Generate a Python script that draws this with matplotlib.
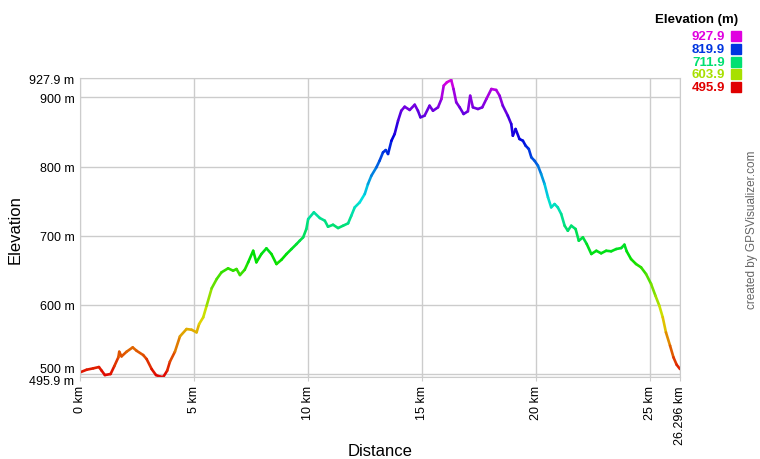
import numpy as np
import matplotlib
matplotlib.use("Agg")
import matplotlib.pyplot as plt
import matplotlib.transforms as mtransforms
from matplotlib.collections import LineCollection
from matplotlib.colors import ListedColormap, hsv_to_rgb, Normalize
from matplotlib.patches import Rectangle

# elevation profile
distance_km = [
    0.00, 0.29, 0.58, 0.83, 0.95, 1.09, 1.34, 1.50, 1.68, 1.72, 1.82, 2.04,
    2.31, 2.48, 2.77, 2.92, 3.14, 3.33, 3.50, 3.65, 3.82, 3.94, 4.16, 4.38,
    4.67, 4.89, 5.11, 5.22, 5.40, 5.55, 5.77, 5.99, 6.20, 6.49, 6.71, 6.86,
    7.01, 7.22, 7.37, 7.59, 7.73, 7.95, 8.17, 8.39, 8.61, 8.83, 9.05, 9.27,
    9.49, 9.63, 9.78, 9.92, 10.00, 10.25, 10.51, 10.73, 10.87, 11.09, 11.31,
    11.53, 11.75, 11.89, 12.04, 12.26, 12.48, 12.62, 12.77, 12.99, 13.13,
    13.28, 13.40, 13.50, 13.65, 13.79, 13.94, 14.08, 14.23, 14.45, 14.67,
    14.81, 14.92, 15.10, 15.32, 15.47, 15.69, 15.84, 15.94, 16.08, 16.27,
    16.37, 16.49, 16.64, 16.81, 17.00, 17.10, 17.22, 17.44, 17.63, 17.81,
    18.03, 18.24, 18.39, 18.53, 18.75, 18.90, 18.97, 19.09, 19.26, 19.41,
    19.53, 19.67, 19.78, 19.92, 20.07, 20.21, 20.36, 20.51, 20.65, 20.80,
    20.94, 21.09, 21.24, 21.38, 21.53, 21.72, 21.86, 22.04, 22.21, 22.41,
    22.63, 22.84, 23.06, 23.28, 23.50, 23.72, 23.86, 23.96, 24.15, 24.37,
    24.59, 24.81, 25.03, 25.22, 25.39, 25.54, 25.68, 25.86, 26.01, 26.15,
    26.296,
]
elevation_m = [
    502.6, 506.4, 508.4, 510.3, 505.0, 498.7, 500.2, 511.3, 524.3, 532.4, 525.7, 532.4,
    538.7, 533.8, 527.6, 521.8, 507.4, 498.7, 496.5, 496.0, 505.0, 518.0, 532.4, 554.6,
    565.2, 564.2, 560.4, 572.4, 582.1, 598.9, 624.0, 637.4, 647.1, 652.9, 649.5, 651.9,
    643.2, 650.9, 661.6, 678.3, 661.6, 673.6, 681.8, 673.6, 659.1, 665.3, 673.6, 680.8,
    688.0, 692.8, 697.7, 709.7, 724.1, 733.8, 725.6, 721.7, 713.0, 715.9, 711.1,
    714.5, 717.9, 728.9, 741.0, 748.3, 760.3, 774.7, 786.7, 798.8, 808.4,
    820.5, 823.8, 818.1, 837.3, 847.0, 866.2, 880.6, 886.4, 881.7, 889.3,
    880.6, 871.1, 873.4, 887.9, 880.6, 885.5, 897.6, 916.8, 921.7, 925.0,
    912.0, 892.8, 885.5, 875.9, 879.8, 902.3, 885.5, 883.1, 885.5, 897.6,
    912.0, 910.6, 902.3, 887.9, 873.4, 861.4, 844.5, 854.2, 839.8, 837.3,
    830.1, 825.3, 813.3, 808.4, 801.2, 789.2, 774.7, 755.5, 741.0, 745.8,
    741.0, 731.4, 714.5, 707.2, 714.5, 709.7, 692.8, 697.7, 688.0, 673.6,
    678.3, 674.6, 678.3, 677.5, 680.8, 682.2, 687.1, 677.5, 666.3, 659.1,
    654.3, 644.6, 630.2, 613.3, 598.9, 582.1, 560.4, 541.2, 524.3, 513.6,
    507.4,
]

elev_min = 495.9
elev_max = 927.9
dist_max = 26.296
y_ticks = [495.9, 500, 600, 700, 800, 900, 927.9]
y_labels = ["495.9 m", "500 m", "600 m", "700 m", "800 m", "900 m", "927.9 m"]
x_ticks = [0, 5, 10, 15, 20, 25, 26.296]
x_labels = ["0 km", "5 km", "10 km", "15 km", "20 km", "25 km", "26.296 km"]
legend_values = [927.9, 819.9, 711.9, 603.9, 495.9]

plt.rcParams['font.family'] = ['Liberation Sans', 'DejaVu Sans']

# red -> yellow -> green -> blue -> magenta
hues = np.linspace(0, 300 / 360, 256)
cmap = ListedColormap(hsv_to_rgb(np.column_stack([hues, np.ones(256), np.full(256, 0.88)])))
norm = Normalize(elev_min, elev_max)

W, H = 760, 460
fig = plt.figure(figsize=(W / 100, H / 100), dpi=100)
ax = fig.add_axes([80 / W, 1 - 378 / H, 600 / W, 299 / H])

x = np.array(distance_km)
y = np.array(elevation_m)
pts = np.column_stack([x, y]).reshape(-1, 1, 2)
segs = np.concatenate([pts[:-1], pts[1:]], axis=1)
lc = LineCollection(segs, cmap=cmap, norm=norm, linewidth=1.9, capstyle='round', joinstyle='round')
lc.set_array((y[:-1] + y[1:]) / 2)
ax.add_collection(lc)

ax.set_xlim(0, dist_max)
ax.set_ylim(elev_min, elev_max)
ax.set_xticks(x_ticks)
ax.set_xticklabels(x_labels, rotation=90, fontsize=9)
ax.set_yticks(y_ticks)
ax.set_yticklabels(y_labels, fontsize=9)
ax.tick_params(axis='x', length=3, color='#cccccc', pad=3)
ax.tick_params(axis='y', length=0, pad=4)
ax.grid(True, color='#cccccc', linewidth=1)
ax.set_axisbelow(True)
for s in ax.spines.values():
    s.set_color('#cccccc')

# the two bottom labels sit 3 px apart, nudge them so both read
ylabs = ax.get_yticklabels()
ylabs[0].set_transform(ylabs[0].get_transform() + mtransforms.ScaledTranslation(0, -1.5 / 72, fig.dpi_scale_trans))
ylabs[1].set_transform(ylabs[1].get_transform() + mtransforms.ScaledTranslation(0, 5 / 72, fig.dpi_scale_trans))

fig.text(15 / W, 1 - 230 / H, "Elevation", rotation=90, fontsize=12, ha='center', va='center')
fig.text(380 / W, 1 - 452 / H, "Distance", fontsize=12, ha='center', va='center')

# legend
fig.text(738 / W, 1 - 20 / H, "Elevation (m)", fontsize=9.5, fontweight='bold', ha='right', va='center')
for i, v in enumerate(legend_values):
    yc = 37 + i * 12.8
    c = cmap(norm(v))
    fig.text(725 / W, 1 - yc / H, f"{v:.1f}", fontsize=9.5, fontweight='bold', color=c,
             ha='right', va='center')
    fig.patches.append(Rectangle((731 / W, 1 - (yc + 5) / H), 10 / W, 10 / H,
                                 transform=fig.transFigure, color=c))

fig.text(752 / W, 1 - 230 / H, "created by GPSVisualizer.com", rotation=90, fontsize=8.5,
         color='#666666', ha='center', va='center')

fig.savefig("out.png", dpi=100)
